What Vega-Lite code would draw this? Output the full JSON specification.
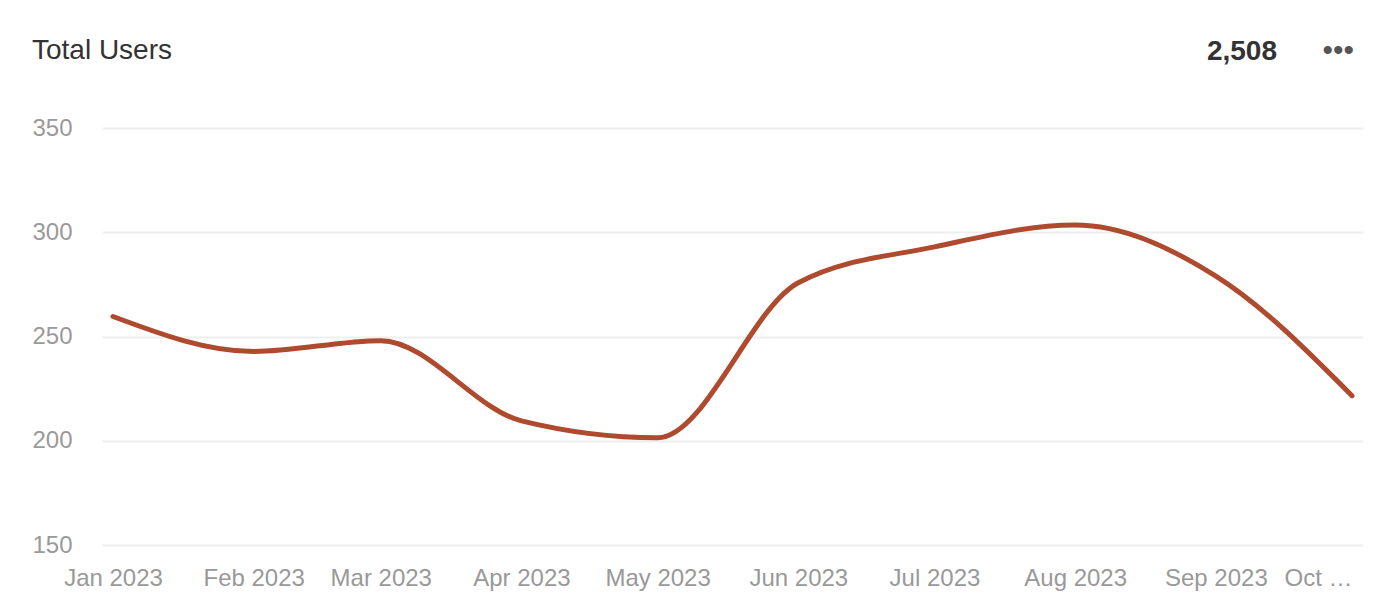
{
  "$schema": "https://vega.github.io/schema/vega-lite/v6.json",
  "width": 1261,
  "height": 417,
  "autosize": "none",
  "padding": {"left": 102, "top": 128, "right": 33, "bottom": 66},
  "background": "white",
  "title": {
    "text": "Total Users",
    "anchor": "start",
    "frame": "bounds",
    "fontSize": 28,
    "font": "Liberation Sans",
    "fontWeight": "normal",
    "color": "#333333",
    "offset": -29
  },
  "config": {"view": {"stroke": null}, "font": "Liberation Sans"},
  "data": {
    "values": [
      {"month": "2023-01-01T00:00:00", "users": 259.6},
      {"month": "2023-02-01T00:00:00", "users": 242.8},
      {"month": "2023-03-01T00:00:00", "users": 248.0},
      {"month": "2023-04-01T00:00:00", "users": 209.5},
      {"month": "2023-05-01T00:00:00", "users": 201.4},
      {"month": "2023-06-01T00:00:00", "users": 275.8},
      {"month": "2023-07-01T00:00:00", "users": 293.0},
      {"month": "2023-08-01T00:00:00", "users": 303.5},
      {"month": "2023-09-01T00:00:00", "users": 279.0},
      {"month": "2023-10-01T00:00:00", "users": 221.6}
    ]
  },
  "layer": [
    {
      "mark": {"type": "line", "interpolate": "monotone", "color": "#ae4a2d", "strokeWidth": 5, "strokeCap": "round"},
      "encoding": {
        "x": {
          "field": "month",
          "type": "temporal",
          "scale": {
            "domain": [{"year": 2023, "month": 1, "date": 1}, {"year": 2023, "month": 10, "date": 1}],
            "padding": 11,
            "nice": false
          },
          "axis": {
            "title": null,
            "values": [
              {"year": 2023, "month": 1, "date": 1},
              {"year": 2023, "month": 2, "date": 1},
              {"year": 2023, "month": 3, "date": 1},
              {"year": 2023, "month": 4, "date": 1},
              {"year": 2023, "month": 5, "date": 1},
              {"year": 2023, "month": 6, "date": 1},
              {"year": 2023, "month": 7, "date": 1},
              {"year": 2023, "month": 8, "date": 1},
              {"year": 2023, "month": 9, "date": 1},
              {"year": 2023, "month": 10, "date": 1}
            ],
            "format": "%b %Y",
            "labelExpr": "month(datum.value) == 9 ? 'Oct …' : datum.label",
            "labelAlign": {"condition": {"test": "month(datum.value) == 9", "value": "right"}, "value": "center"},
            "labelFlush": false,
            "labelOverlap": false,
            "labelBound": false,
            "grid": false,
            "domain": false,
            "ticks": false,
            "tickSize": 0,
            "labelPadding": 21,
            "labelFontSize": 24,
            "labelColor": "#999999",
            "labelFont": "Liberation Sans"
          }
        },
        "y": {
          "field": "users",
          "type": "quantitative",
          "scale": {"domain": [150, 350], "nice": false, "zero": false},
          "axis": {
            "title": null,
            "values": [150, 200, 250, 300, 350],
            "grid": true,
            "gridColor": "#eeeeee",
            "gridWidth": 2,
            "domain": false,
            "ticks": false,
            "tickSize": 0,
            "labelPadding": 30,
            "labelFontSize": 24,
            "labelColor": "#999999",
            "labelFont": "Liberation Sans"
          }
        }
      }
    },
    {
      "data": {"values": [{"label": "2,508"}]},
      "mark": {"type": "text", "align": "right", "baseline": "alphabetic", "fontSize": 28, "fontWeight": "bold", "color": "#333333", "font": "Liberation Sans", "dx": -75, "dy": -68},
      "encoding": {
        "text": {"field": "label"},
        "x": {"datum": {"year": 2023, "month": 10, "date": 1}, "type": "temporal"},
        "y": {"datum": 350, "type": "quantitative"}
      }
    },
    {
      "data": {"values": [{"label": "•••"}]},
      "mark": {"type": "text", "align": "right", "baseline": "alphabetic", "fontSize": 30, "color": "#555555", "font": "Liberation Sans", "dx": 2, "dy": -68},
      "encoding": {
        "text": {"field": "label"},
        "x": {"datum": {"year": 2023, "month": 10, "date": 1}, "type": "temporal"},
        "y": {"datum": 350, "type": "quantitative"}
      }
    }
  ]
}
